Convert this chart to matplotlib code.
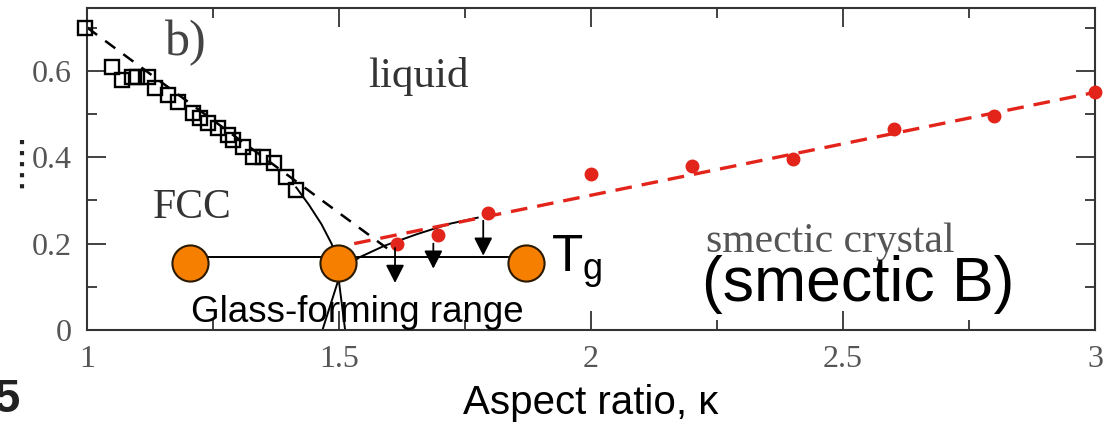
import matplotlib
matplotlib.use("Agg")
import matplotlib.pyplot as plt
from matplotlib.lines import Line2D
from matplotlib.ticker import MultipleLocator

SERIF = "Liberation Serif"
SANS = "Liberation Sans"

# FCC melting points (open squares)
fcc_kappa = [0.995, 1.05, 1.07, 1.09, 1.10, 1.12, 1.135, 1.16, 1.18, 1.21, 1.225,
             1.24, 1.26, 1.28, 1.29, 1.31, 1.33, 1.35, 1.37, 1.395, 1.415]
fcc_T = [0.698, 0.609, 0.579, 0.586, 0.586, 0.586, 0.56, 0.544, 0.528, 0.502, 0.49,
         0.479, 0.467, 0.451, 0.44, 0.423, 0.40, 0.40, 0.386, 0.354, 0.325]
fcc_fit_kappa = [1.0, 1.6]
fcc_fit_T = [0.70, 0.185]

# smectic melting points (red dots) and linear fit
sm_kappa = [1.615, 1.697, 1.796, 2.0, 2.2, 2.4, 2.6, 2.8, 3.0]
sm_T = [0.20, 0.219, 0.27, 0.36, 0.38, 0.395, 0.465, 0.495, 0.55]
sm_fit_kappa = [1.53, 3.0]
sm_fit_T = [0.20, 0.55]

# guide lines bounding the glass-forming range
left_kappa = [1.415, 1.44, 1.465, 1.485, 1.497, 1.497, 1.467]
left_T = [0.33, 0.29, 0.245, 0.20, 0.16, 0.11, 0.0]
right_kappa = [1.512, 1.50, 1.52, 1.54, 1.59, 1.655, 1.72, 1.775]
right_T = [0.0, 0.11, 0.15, 0.168, 0.195, 0.222, 0.246, 0.26]

# glass transition line
tg_kappa = [1.204, 1.498, 1.87]
tg_T = [0.156, 0.156, 0.156]
tg_line_T = 0.17

# arrows: kappa, start, end
arrow_kappa = [1.611, 1.687, 1.786]
arrow_top = [0.19, 0.20, 0.253]
arrow_tip = [0.109, 0.142, 0.172]

fig = plt.figure(figsize=(11.09, 4.25), dpi=100)
ax = fig.add_axes([0.0785, 0.2235, 0.909, 0.7575])

ax.plot(fcc_fit_kappa, fcc_fit_T, color="black", lw=1.8, ls=(0, (5, 4)), zorder=2)
ax.plot(fcc_kappa, fcc_T, ls="none", marker="s", ms=10.5, mfc="none", mec="black",
        mew=1.7, zorder=3, clip_on=False)

ax.plot(left_kappa, left_T, color="black", lw=1.4, zorder=2)
ax.plot(right_kappa, right_T, color="black", lw=1.4, zorder=2)

ax.plot(sm_fit_kappa, sm_fit_T, color="#e3241b", lw=2.4, ls=(0, (5, 3)), zorder=2)
ax.plot(sm_kappa, sm_T, ls="none", marker="o", ms=9, color="#e3241b", zorder=3,
        clip_on=False)

ax.plot([tg_kappa[0], tg_kappa[-1]], [tg_line_T, tg_line_T], color="black", lw=1.4, zorder=2)
ax.plot(tg_kappa, tg_T, ls="none", marker="o", ms=26, mfc="#f77f00", mec="#2b1a00",
        mew=1.5, zorder=5)

for k, t0, t1 in zip(arrow_kappa, arrow_top, arrow_tip):
    ax.annotate("", xy=(k, t1), xytext=(k, t0),
                arrowprops=dict(arrowstyle="-|>,head_length=0.55,head_width=0.28",
                                color="black", lw=1.3, mutation_scale=20,
                                shrinkA=0, shrinkB=0), zorder=4)

ax.text(1.196, 0.665, "b)", family=SERIF, fontsize=36, color="#444444",
        ha="center", va="center")
ax.text(1.657, 0.586, "liquid", family=SERIF, fontsize=31, color="#333333",
        ha="center", va="center")
ax.text(1.208, 0.284, "FCC", family=SERIF, fontsize=30, color="#333333",
        ha="center", va="center")
ax.text(2.474, 0.205, "smectic crystal", family=SERIF, fontsize=30, color="#555555",
        ha="center", va="center")
ax.text(2.53, 0.106, "(smectic B)", family=SANS, fontsize=45, color="black",
        ha="center", va="center")
ax.text(1.92, 0.158, r"T$_\mathregular{g}$", family=SANS, fontsize=37, color="black",
        ha="left", va="center")
ax.text(1.536, 0.019, "Glass-forming range", family=SANS, fontsize=26.5, color="black",
        ha="center", va="baseline", zorder=6)

ax.set_xlim(1, 3)
ax.set_ylim(0, 0.745)
ax.xaxis.set_major_locator(MultipleLocator(0.5))
ax.xaxis.set_minor_locator(MultipleLocator(0.25))
ax.yaxis.set_major_locator(MultipleLocator(0.2))
ax.yaxis.set_minor_locator(MultipleLocator(0.1))
ax.set_xticks([1, 1.5, 2, 2.5, 3], ["1", "1.5", "2", "2.5", "3"])
ax.set_yticks([0, 0.2, 0.4, 0.6], ["0", "0.2", "0.4", "0.6"])
ax.tick_params(which="both", direction="in", top=True, right=True, color="#333333",
               width=1.3)
ax.tick_params(which="major", length=14, pad=11, labelsize=23, labelcolor="#555555")
ax.tick_params(which="minor", length=7)
for lab in ax.get_xticklabels() + ax.get_yticklabels():
    lab.set_family(SERIF)
for sp in ax.spines.values():
    sp.set_color("#333333")
    sp.set_linewidth(1.5)

ax.set_xlabel("Aspect ratio, \u03ba", family=SANS, fontsize=29, labelpad=7)

# fragments at the left edge
fig.text(-0.006, 0.03, "5", family=SANS, fontsize=34, weight="bold", color="#222222")
fig.add_artist(Line2D([22 / 1109, 22 / 1109], [1 - 140 / 425, 1 - 195 / 425],
                      transform=fig.transFigure, color="#222222", lw=3, ls=":"))

fig.savefig("out.png", dpi=100)
